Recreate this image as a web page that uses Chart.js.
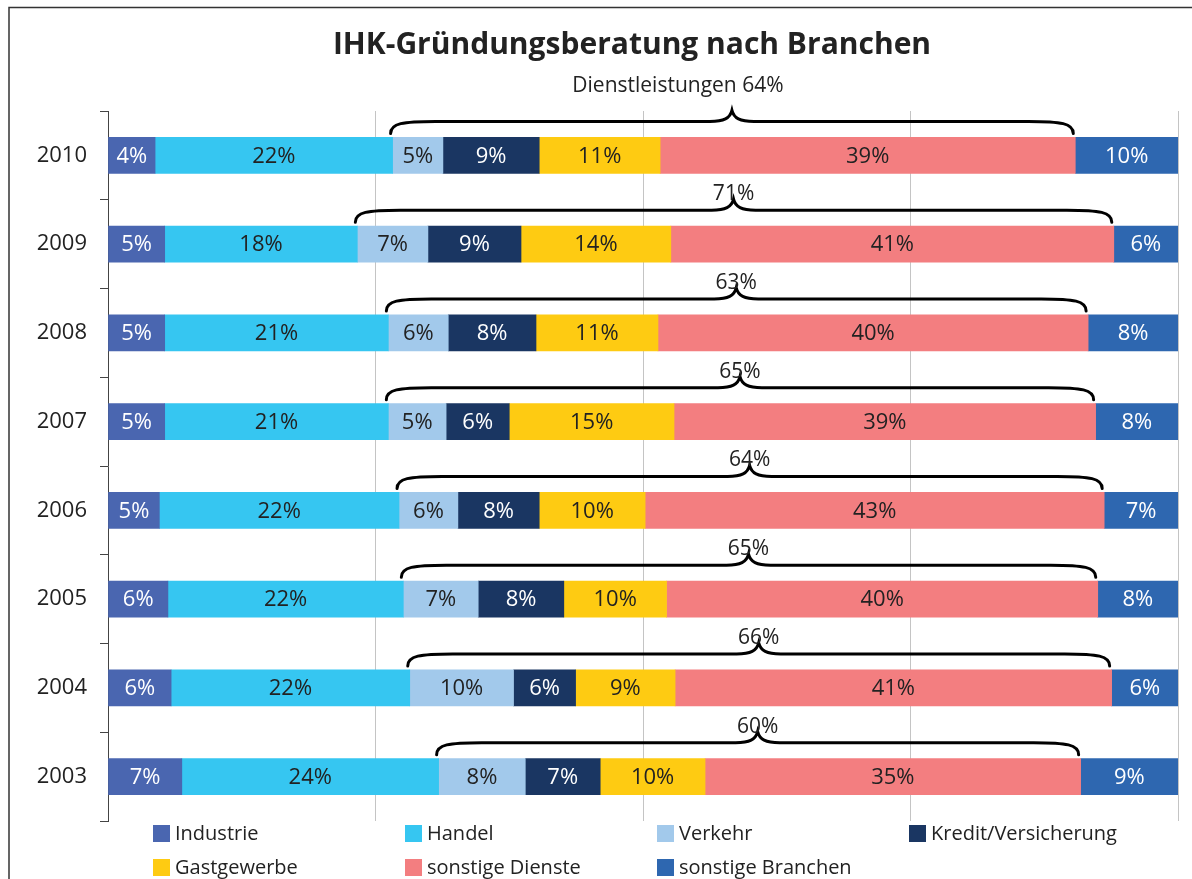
<!DOCTYPE html>
<html>
<head>
<meta charset="utf-8">
<script src="https://cdn.jsdelivr.net/npm/chart.js@4.4.1/dist/chart.umd.min.js"></script>
<style>
html,body{margin:0;padding:0;background:#fff;}
canvas{display:block;}
</style>
</head>
<body>
<canvas id="c" width="1192" height="879"></canvas>
<script>
// ---- data (years top to bottom) ----
const years = ["2010","2009","2008","2007","2006","2005","2004","2003"];
const industrie      = [4.4, 5.3, 5.3, 5.3, 4.8, 5.6, 5.9, 6.9];
const handel         = [22.2, 18.0, 20.9, 20.9, 22.4, 22.0, 22.3, 24.0];
const verkehr        = [4.7, 6.6, 5.6, 5.4, 5.5, 7.0, 9.7, 8.1];
const kredit         = [9.0, 8.7, 8.2, 5.9, 7.6, 8.0, 5.8, 7.0];
const gastgewerbe    = [11.3, 14.0, 11.4, 15.4, 9.9, 9.6, 9.3, 9.8];
const sonstDienste   = [38.8, 41.4, 40.2, 39.4, 42.9, 40.3, 40.8, 35.1];
const sonstBranchen  = [9.6, 6.0, 8.4, 7.7, 6.9, 7.5, 6.2, 9.1];
const dienstLabels   = ["Dienstleistungen 64%","71%","63%","65%","64%","65%","66%","60%"];
const seriesNames = ["Industrie","Handel","Verkehr","Kredit/Versicherung","Gastgewerbe","sonstige Dienste","sonstige Branchen"];
const xTicks = [0, 25, 50, 75, 100];
const titleText = "IHK-Gründungsberatung nach Branchen";

// ---- styles ----
const colors = ["#4a66b0","#36c6f1","#a2c9eb","#1a3662","#fecb12","#f37e80","#2e67b0"];
const labelColors = ["#ffffff","#222222","#222222","#ffffff","#222222","#222222","#ffffff"];
const FONT = "'Open Sans', 'DejaVu Sans', sans-serif";

const seriesData = [industrie, handel, verkehr, kredit, gastgewerbe, sonstDienste, sonstBranchen];
const datasets = seriesNames.map((n, i) => ({
  label: n,
  data: seriesData[i],
  backgroundColor: colors[i],
  borderWidth: 0,
  barThickness: 36
}));

const decoPlugin = {
  id: 'deco',
  beforeDraw(chart) {
    const ctx = chart.ctx;
    ctx.save();
    ctx.fillStyle = '#fff';
    ctx.fillRect(0, 0, chart.width, chart.height);
    ctx.strokeStyle = '#333';
    ctx.lineWidth = 1.5;
    ctx.beginPath();
    ctx.moveTo(9, 900);
    ctx.lineTo(9, 7.5);
    ctx.lineTo(1200, 7.5);
    ctx.stroke();
    ctx.restore();
  },
  afterDatasetsDraw(chart) {
    const ctx = chart.ctx;
    ctx.save();
    ctx.font = "22px " + FONT;
    ctx.textAlign = 'center';
    ctx.textBaseline = 'middle';
    chart.data.datasets.forEach((ds, i) => {
      const meta = chart.getDatasetMeta(i);
      meta.data.forEach((bar, j) => {
        const p = bar.getProps(['x', 'y', 'base'], true);
        ctx.fillStyle = labelColors[i];
        ctx.fillText(Math.round(ds.data[j]) + '%', (p.x + p.base) / 2, p.y + 1);
      });
    });
    ctx.restore();
  },
  afterDraw(chart) {
    const ctx = chart.ctx;
    const xs = chart.scales.x;
    const meta0 = chart.getDatasetMeta(0);
    ctx.save();
    // braces
    years.forEach((yr, j) => {
      const bar = meta0.data[j];
      const p = bar.getProps(['y', 'height'], true);
      const barTop = p.y - p.height / 2;
      const L = xs.getPixelForValue(industrie[j] + handel[j]) - 2;
      const R = xs.getPixelForValue(industrie[j] + handel[j] + verkehr[j] + kredit[j] + gastgewerbe[j] + sonstDienste[j]) - 2;
      const C = (L + R) / 2;
      const yl = barTop - 16;
      const h = 12, t = 11;
      ctx.strokeStyle = '#000';
      ctx.lineWidth = 3;
      ctx.lineCap = 'round';
      ctx.beginPath();
      ctx.moveTo(L, yl + h);
      ctx.bezierCurveTo(L, yl + 2, L + 12, yl, L + 45, yl);
      ctx.lineTo(C - 22, yl);
      ctx.bezierCurveTo(C - 8, yl, C - 2, yl - 3, C, yl - t);
      ctx.bezierCurveTo(C + 2, yl - 3, C + 8, yl, C + 22, yl);
      ctx.lineTo(R - 45, yl);
      ctx.bezierCurveTo(R - 12, yl, R, yl + 2, R, yl + h);
      ctx.stroke();
      ctx.fillStyle = '#222';
      ctx.font = "21px " + FONT;
      ctx.textAlign = 'center';
      ctx.textBaseline = 'middle';
      if (j === 0) {
        ctx.fillText(dienstLabels[j], C - 54, yl - 35);
      } else {
        ctx.fillText(dienstLabels[j], C, yl - 16);
      }
    });
    // title
    ctx.fillStyle = '#222';
    ctx.font = "bold 30px " + FONT;
    ctx.textAlign = 'center';
    ctx.textBaseline = 'middle';
    ctx.fillText(titleText, 632, 45);
    // legend (4 columns)
    ctx.font = "20px " + FONT;
    ctx.textAlign = 'left';
    seriesNames.forEach((n, i) => {
      const col = i % 4, row = Math.floor(i / 4);
      const x = 153 + col * 252;
      const y = 833 + row * 34;
      ctx.fillStyle = colors[i];
      ctx.fillRect(x, y - 8, 17, 17);
      ctx.fillStyle = '#222';
      ctx.fillText(n, x + 22, y + 1);
    });
    ctx.restore();
  }
};

new Chart(document.getElementById('c'), {
  type: 'bar',
  data: { labels: years, datasets },
  options: {
    indexAxis: 'y',
    responsive: false,
    animation: false,
    layout: { padding: { top: 111, bottom: 58, left: 0, right: 14 } },
    plugins: { legend: { display: false }, title: { display: false }, tooltip: { enabled: false } },
    scales: {
      x: {
        stacked: true,
        min: 0, max: 100,
        afterBuildTicks(s) { s.ticks = xTicks.map(v => ({ value: v })); },
        afterFit(s) { s.height = 0; },
        ticks: { display: false },
        grid: {
          drawTicks: false,
          color: ctx => (ctx.tick && ctx.tick.value === 0) ? 'rgba(0,0,0,0)' : '#c4c4c4',
          lineWidth: 1
        },
        border: { display: false }
      },
      y: {
        stacked: true,
        afterFit(s) { s.width = 108; },
        grid: { drawOnChartArea: false, drawTicks: true, tickLength: 8, color: '#444', offset: true },
        border: { display: true, color: '#444', width: 1 },
        ticks: { color: '#222', font: { size: 22, family: FONT }, padding: 13 }
      }
    }
  },
  plugins: [decoPlugin]
});
</script>
</body>
</html>
